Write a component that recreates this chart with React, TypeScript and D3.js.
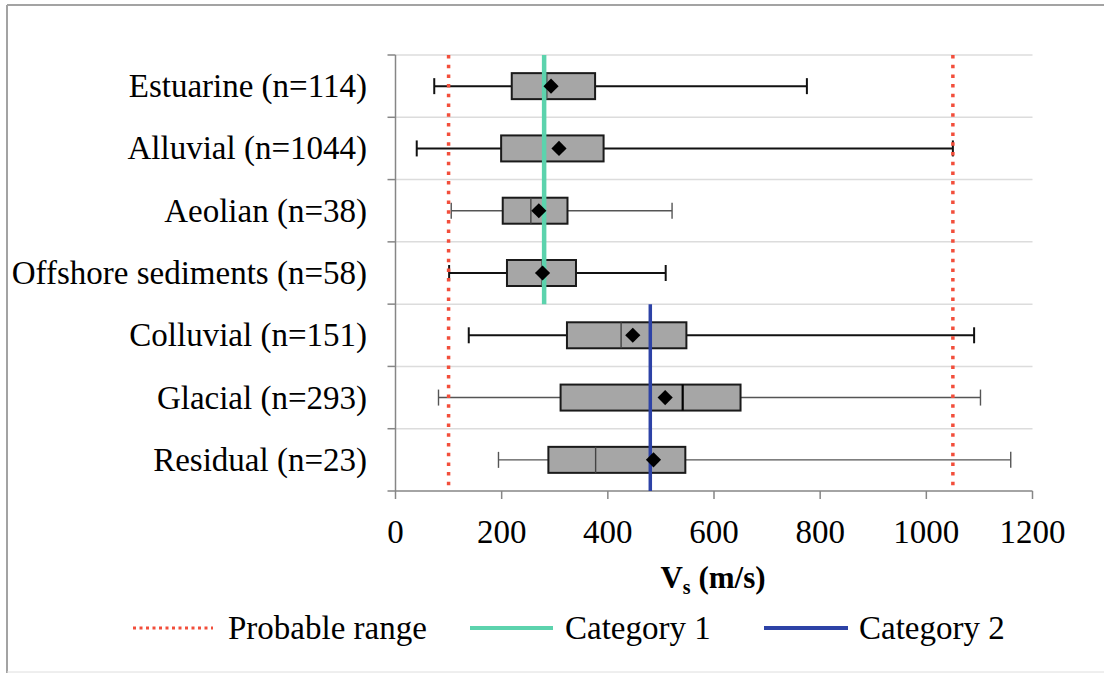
import React from "react";
import * as d3 from "d3";

const categories = [
  "Estuarine (n=114)",
  "Alluvial (n=1044)",
  "Aeolian (n=38)",
  "Offshore sediments (n=58)",
  "Colluvial (n=151)",
  "Glacial (n=293)",
  "Residual (n=23)",
];
const whiskerMin = [73, 40, 105, 101, 138, 81, 194];
const q1 = [219, 199, 202, 210, 323, 311, 288];
const median = [285, 280, 255, 276, 425, 541, 377];
const q3 = [376, 392, 324, 340, 548, 650, 546];
const whiskerMax = [775, 1050, 521, 509, 1090, 1102, 1159];
const mean = [293, 308, 270, 277, 447, 508, 486];
const thickWhisker = [true, true, false, true, true, false, false];
const thickMedian = [false, false, false, false, false, true, false];

const xTicks = [0, 200, 400, 600, 800, 1000, 1200];
const probableRange = [100, 1050];
const category1 = 280; // applies to first 4 categories
const category2 = 480; // applies to last 3 categories
const legendLabels = ["Probable range", "Category 1", "Category 2"];

const W = 1104;
const H = 673;
const FONT = "'Liberation Serif', 'Times New Roman', serif";
const RED = "#f24e3b";
const GREEN = "#5cd3ad";
const BLUE = "#2d42a6";

export default function App() {
  const x = d3.scaleLinear().domain([0, 1200]).range([395.5, 1032.5]);
  const y = d3.scaleBand().domain(categories).range([55, 491]).padding(0);
  const bw = y.bandwidth();
  const boxH = 26;
  const capH = 16;
  const diamond = d3.symbol().type(d3.symbolSquare).size(115)();
  const yTop = y.range()[0];
  const yBot = y.range()[1];
  const ySplit = y(categories[4]) as number;

  return (
    <svg
      width={W}
      height={H}
      style={{ position: "absolute", left: 0, top: 0, background: "#fff" }}
      fontFamily={FONT}
    >
      <rect x={0} y={0} width={W} height={H} fill="#fff" />
      {/* frame */}
      <line x1={7} y1={5} x2={W} y2={5} stroke="#a3a3a3" strokeWidth={2} />
      <line x1={7} y1={5} x2={7} y2={H} stroke="#a3a3a3" strokeWidth={2} />
      <line x1={7} y1={672} x2={W} y2={672} stroke="#dedede" strokeWidth={1} />

      {/* gridlines */}
      {d3.range(categories.length + 1).map((i) => {
        const yy = yTop + i * bw;
        return (
          <g key={"g" + i}>
            {i < categories.length && (
              <line x1={x(0)} x2={x(1200)} y1={yy} y2={yy} stroke="#dcdcdc" strokeWidth={1.5} />
            )}
            <line x1={x(0) - 8} x2={x(0)} y1={yy} y2={yy} stroke="#868686" strokeWidth={1.5} />
          </g>
        );
      })}

      {/* axes */}
      <line x1={x(0)} x2={x(0)} y1={yTop} y2={yBot} stroke="#868686" strokeWidth={1.5} />
      <line x1={x(0)} x2={x(1200)} y1={yBot} y2={yBot} stroke="#868686" strokeWidth={1.5} />
      {xTicks.map((t) => (
        <g key={"t" + t}>
          <line x1={x(t)} x2={x(t)} y1={yBot} y2={yBot + 8} stroke="#868686" strokeWidth={1.5} />
          <text x={x(t)} y={543} textAnchor="middle" fontSize={33} fill="#000">
            {t}
          </text>
        </g>
      ))}

      {/* category labels */}
      {categories.map((c) => (
        <text
          key={c}
          x={367}
          y={(y(c) as number) + bw / 2 + 11}
          textAnchor="end"
          fontSize={33}
          fill="#000"
        >
          {c}
        </text>
      ))}

      {/* boxes */}
      {categories.map((c, i) => {
        const cy = (y(c) as number) + bw / 2;
        const wc = thickWhisker[i] ? "#111" : "#555";
        const ww = thickWhisker[i] ? 2 : 1.4;
        return (
          <g key={"b" + i}>
            <line x1={x(whiskerMin[i])} x2={x(q1[i])} y1={cy} y2={cy} stroke={wc} strokeWidth={ww} />
            <line x1={x(q3[i])} x2={x(whiskerMax[i])} y1={cy} y2={cy} stroke={wc} strokeWidth={ww} />
            <line x1={x(whiskerMin[i])} x2={x(whiskerMin[i])} y1={cy - capH / 2} y2={cy + capH / 2} stroke={wc} strokeWidth={ww} />
            <line x1={x(whiskerMax[i])} x2={x(whiskerMax[i])} y1={cy - capH / 2} y2={cy + capH / 2} stroke={wc} strokeWidth={ww} />
            <rect
              x={x(q1[i])}
              y={cy - boxH / 2}
              width={x(q3[i]) - x(q1[i])}
              height={boxH}
              fill="#a6a6a6"
              stroke="#1a1a1a"
              strokeWidth={2}
            />
            <line
              x1={x(median[i])}
              x2={x(median[i])}
              y1={cy - boxH / 2}
              y2={cy + boxH / 2}
              stroke={thickMedian[i] ? "#000" : "#444"}
              strokeWidth={thickMedian[i] ? 2.2 : 1.4}
            />
          </g>
        );
      })}

      {/* reference lines */}
      {probableRange.map((v) => (
        <line
          key={"r" + v}
          x1={x(v)}
          x2={x(v)}
          y1={yTop}
          y2={yBot}
          stroke={RED}
          strokeWidth={3.5}
          strokeDasharray="3.5 6.2"
        />
      ))}
      <line x1={x(category1)} x2={x(category1)} y1={yTop} y2={ySplit} stroke={GREEN} strokeWidth={4.5} />
      <line x1={x(category2)} x2={x(category2)} y1={ySplit} y2={yBot} stroke={BLUE} strokeWidth={3.5} />

      {/* means */}
      {categories.map((c, i) => (
        <path
          key={"m" + i}
          d={diamond as string}
          transform={`translate(${x(mean[i])},${(y(c) as number) + bw / 2}) rotate(45)`}
          fill="#000"
        />
      ))}

      {/* x axis title */}
      <text x={713} y={588} textAnchor="middle" fontSize={31} fontWeight="bold" fill="#000">
        V<tspan fontSize={20} dy={6}>s</tspan>
        <tspan dy={-6}> (m/s)</tspan>
      </text>

      {/* legend */}
      <line x1={133} x2={213} y1={628} y2={628} stroke={RED} strokeWidth={3} strokeDasharray="3 3.5" />
      <text x={228} y={639} fontSize={33} fill="#000">{legendLabels[0]}</text>
      <line x1={470} x2={553} y1={628} y2={628} stroke={GREEN} strokeWidth={4} />
      <text x={565} y={639} fontSize={33} fill="#000">{legendLabels[1]}</text>
      <line x1={764} x2={848} y1={628} y2={628} stroke={BLUE} strokeWidth={4} />
      <text x={859} y={639} fontSize={33} fill="#000">{legendLabels[2]}</text>
    </svg>
  );
}
